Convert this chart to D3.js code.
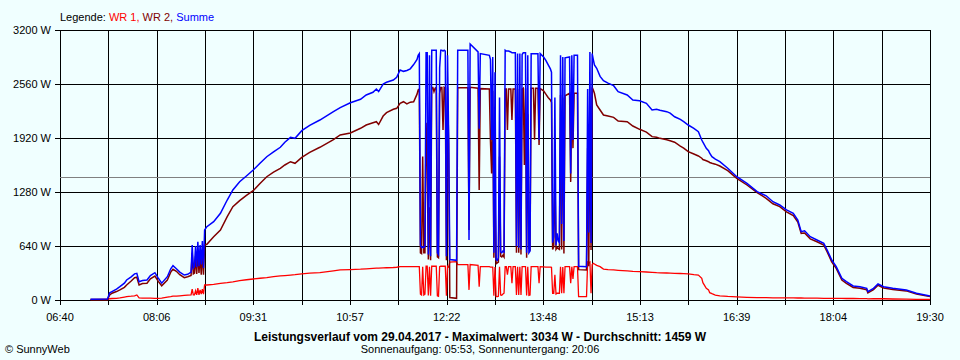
<!DOCTYPE html>
<html><head><meta charset="utf-8">
<script src="https://cdn.jsdelivr.net/npm/d3@7"></script>
<style>
body{margin:0;background:#F0FFFF;}
svg{display:block;}
text{font-family:"Liberation Sans",Arial,sans-serif;}
</style>
</head><body>
<svg id="chart" width="960" height="360"></svg>
<script>
// ---------- DATA ----------
const times = [
"07:07","07:22","07:24","07:26","07:30","07:33","07:37","07:39","07:43","07:46","07:48","07:50","07:53","07:57","08:00","08:04","08:07","08:10","08:15","08:18","08:20","08:23","08:26","08:30","08:33","08:36",
"08:37","08:38","08:39","08:40","08:41","08:42","08:43","08:44","08:45","08:46","08:47","08:48","08:50","08:56","09:02","09:08","09:13","09:19","09:25","09:31","09:37","09:43","09:49","09:55","09:59",
"10:04","10:08","10:14","10:21","10:30","10:42","10:48","10:57","11:06","11:11","11:17","11:20","11:22","11:26","11:29","11:35","11:38","11:41","11:44","11:47","11:50","11:53","11:56","11:57","11:58",
"11:59","12:00","12:01","12:02","12:03","12:04","12:05","12:06","12:07","12:08","12:09","12:10","12:11","12:12","12:13","12:14","12:15","12:16","12:17","12:18","12:19","12:20","12:21","12:22","12:23","12:24","12:25","12:31","12:32","12:41","12:42","12:43","12:50","12:51","12:52",
"13:00","13:01","13:02","13:03","13:04","13:05","13:06","13:07","13:08","13:09","13:10","13:11","13:12","13:13","13:14","13:15","13:16","13:17","13:19","13:20","13:21","13:23","13:24","13:25","13:26","13:27","13:28","13:29","13:30","13:31","13:32","13:33","13:34","13:35","13:36","13:37","13:39","13:40","13:41","13:43","13:44","13:45","13:48","13:50","13:52","13:54","13:55","13:56","13:57","13:58","13:59",
"14:00","14:01","14:02","14:03","14:04","14:05","14:06","14:07","14:11","14:12","14:13","14:14","14:15","14:18","14:19","14:26","14:27","14:28","14:29","14:30","14:31","14:32","14:33","14:35","14:38","14:41","14:45","14:50","14:54",
"15:02","15:07","15:13","15:19","15:24","15:28","15:31","15:37","15:40","15:44","15:49","15:52","15:56","16:01","16:05","16:08","16:09","16:12","16:14","16:15","16:17","16:20","16:24","16:31","16:39","16:48","16:57",
"17:05","17:11","17:17","17:23","17:29","17:33","17:36","17:39","17:44","17:50","17:56","17:59","18:03","18:07","18:12","18:16","18:22","18:28","18:34","18:35","18:40","18:44","18:49","18:57","19:09","19:18","19:30"
];
const summe = [
10,12,85,100,130,158,200,237,275,310,316,217,230,237,290,324,260,200,276,370,407,370,330,296,305,330,
650,380,400,640,390,690,400,650,420,700,380,830,869,928,1027,1185,1304,1402,1470,1541,1620,1698,1755,1810,1870,
1928,1916,2007,2070,2133,2232,2280,2338,2379,2430,2462,2500,2470,2560,2580,2607,2640,2726,2710,2720,2740,2790,2850,2900,2920,
650,620,630,620,640,2930,2930,540,2900,520,2960,2960,2960,2960,2960,560,540,2750,2960,2960,2950,2960,2950,520,2900,1900,480,470,2960,2960,710,3034,2940,2030,2920,
2900,2850,1896,2880,560,2700,480,470,500,2400,570,560,580,570,2960,2950,2950,2950,2940,2930,2930,2930,640,2920,620,2920,600,2910,2930,2930,2930,560,2900,560,580,2920,2920,2920,2920,2920,1896,2920,2880,2840,2790,2740,2700,680,750,2400,650,
790,700,680,2900,900,2880,700,2870,2880,1500,2900,1896,2900,2900,400,395,2500,800,2940,675,2920,2850,2785,2746,2650,2600,2570,2540,2469,
2430,2370,2362,2331,2252,2260,2250,2232,2215,2172,2140,2113,2074,2035,1995,1896,1870,1798,1770,1740,1699,1670,1639,1561,1461,1383,1284,
1235,1165,1126,1067,1027,948,810,820,750,711,672,593,474,395,257,217,166,158,138,98,138,190,158,138,119,79,47
];
const wr2 = [
5,6,60,80,100,120,150,178,225,265,270,178,195,198,250,284,220,168,237,330,364,340,300,265,275,290,
560,310,320,520,310,590,320,530,300,580,300,652,660,750,830,987,1106,1177,1240,1295,1380,1461,1515,1561,1600,
1639,1620,1691,1750,1810,1900,1956,1980,2035,2074,2100,2113,2080,2180,2220,2260,2272,2331,2350,2323,2345,2350,2440,2490,2500,
560,550,1700,560,560,2100,1600,480,1100,470,2520,2520,2470,2510,2520,510,500,2450,2520,2520,2015,2520,2510,470,2520,1850,30,20,2515,2515,830,2520,2510,1304,2505,
2500,1876,1500,2480,500,1200,430,440,450,1700,520,510,530,510,2500,2500,2015,2500,2500,2133,2500,2500,560,2500,560,1900,540,2500,2510,1600,2510,500,2200,612,600,2510,2510,1900,2510,2510,1837,2505,2480,2440,2400,2370,2340,600,630,1500,600,
620,610,600,2430,600,2400,550,2420,2450,1400,2450,1800,2450,2450,360,355,1800,400,2200,593,2520,2490,2450,2311,2252,2193,2180,2165,2121,
2113,2062,2023,1990,1936,1930,1916,1900,1888,1870,1825,1800,1758,1730,1707,1680,1665,1650,1639,1630,1620,1610,1588,1533,1442,1363,1272,
1205,1140,1106,1045,1000,925,790,795,725,690,650,570,452,375,237,197,148,140,122,85,122,175,143,125,108,70,40
];
const wr1 = [
5,6,15,18,20,25,35,40,45,50,60,25,22,22,22,20,20,22,35,40,45,47,50,55,58,60,
130,60,60,110,60,140,60,120,70,130,70,178,178,185,198,205,215,229,240,249,258,265,276,285,290,
295,300,310,318,325,345,356,360,365,370,376,378,378,380,382,385,388,395,395,395,395,395,395,395,395,
70,60,395,60,70,400,400,55,395,50,400,400,400,400,400,50,45,395,400,400,400,400,400,50,400,390,450,455,420,420,120,420,410,158,395,
395,390,390,390,50,390,40,40,45,395,60,55,70,80,395,395,300,395,395,200,395,395,60,395,60,395,60,395,395,395,395,55,395,55,60,395,395,395,395,395,200,395,392,390,390,390,388,80,80,300,70,
80,80,80,395,80,390,80,395,395,200,395,250,395,395,40,40,450,440,450,80,420,435,427,410,395,367,360,356,352,
345,340,336,332,328,324,322,320,318,316,314,312,310,300,296,257,205,138,120,87,75,59,50,42,38,32,28,
27,26,25,25,24,24,24,23,23,22,20,20,20,20,20,18,18,16,16,14,16,15,15,12,10,8,7
];
const yTickValues = [0, 640, 1280, 1920, 2560, 3200];
const xTickLabels = ["06:40","08:06","09:31","10:57","12:22","13:48","15:13","16:39","18:04","19:30"];
const averageValue = 1459;
const maximumValue = 3034;
const dateLabel = "29.04.2017";
const sunrise = "05:53", sunset = "20:06";

// ---------- CHART ----------
const toMin = s => { const [h, m] = s.split(":").map(Number); return h * 60 + m; };
const svg = d3.select("#chart");
const pL = 60, pR = 930, pT = 30, pB = 300;
const tStart = toMin(xTickLabels[0]), tEnd = toMin(xTickLabels[xTickLabels.length - 1]);
const x = d3.scaleLinear().domain([tStart, tEnd]).range([pL, pR]);
const y = d3.scaleLinear().domain([0, 3200]).range([pB, pT]);

svg.append("rect").attr("width", 960).attr("height", 360).attr("fill", "#F0FFFF");

// grid: 18 intervals, labels on every second line
const nInt = 18;
const gridT = d3.range(nInt + 1).map(i => tStart + i * (tEnd - tStart) / nInt);
const g = svg.append("g").attr("shape-rendering", "crispEdges");
gridT.forEach(t => {
  const gx = Math.round(x(t)) + 0.5;
  g.append("line").attr("x1", gx).attr("x2", gx).attr("y1", pT).attr("y2", pB + 5).attr("stroke", "#000");
});
yTickValues.forEach(v => {
  const gy = Math.round(y(v)) + 0.5;
  g.append("line").attr("x1", pL - 5).attr("x2", pR).attr("y1", gy).attr("y2", gy).attr("stroke", "#000");
});
const ay = Math.round(y(averageValue)) + 0.5;
g.append("line").attr("x1", pL).attr("x2", pR).attr("y1", ay).attr("y2", ay).attr("stroke", "#808080");

// axis labels
yTickValues.forEach(v => {
  svg.append("text").attr("x", 51).attr("y", y(v)).attr("dy", "0.35em")
    .attr("text-anchor", "end").attr("font-size", 11).text(v + " W");
});
xTickLabels.forEach((lab, i) => {
  svg.append("text").attr("x", x(gridT[i * 2])).attr("y", 321)
    .attr("text-anchor", "middle").attr("font-size", 11).text(lab);
});

// series (legend order: WR 1, WR 2, Summe on top)
const pts = times.map((t, i) => ({ t: toMin(t), s: summe[i], w2: wr2[i], w1: wr1[i] }));
const mk = key => d3.line().x(d => x(d.t)).y(d => y(d[key]));
svg.append("path").attr("d", mk("w1")(pts)).attr("fill", "none").attr("stroke", "#FF0000").attr("stroke-width", 1.3);
svg.append("path").attr("d", mk("w2")(pts)).attr("fill", "none").attr("stroke", "#800000").attr("stroke-width", 1.5);
svg.append("path").attr("d", mk("s")(pts)).attr("fill", "none").attr("stroke", "#0000FF").attr("stroke-width", 1.5);

// legend
const leg = svg.append("text").attr("x", 60).attr("y", 21).attr("font-size", 11);
leg.append("tspan").attr("fill", "#000").text("Legende: ");
leg.append("tspan").attr("fill", "#FF0000").text("WR 1, ");
leg.append("tspan").attr("fill", "#800000").text("WR 2, ");
leg.append("tspan").attr("fill", "#0000FF").text("Summe");

// titles
svg.append("text").attr("x", 480).attr("y", 341).attr("text-anchor", "middle")
  .attr("font-size", 12).attr("font-weight", "bold")
  .text(`Leistungsverlauf vom ${dateLabel} - Maximalwert: ${maximumValue} W - Durchschnitt: ${averageValue} W`);
svg.append("text").attr("x", 480).attr("y", 353).attr("text-anchor", "middle")
  .attr("font-size", 11).text(`Sonnenaufgang: ${sunrise}, Sonnenuntergang: ${sunset}`);
svg.append("text").attr("x", 5).attr("y", 353).attr("font-size", 11).text("© SunnyWeb");
</script>
</body></html>
